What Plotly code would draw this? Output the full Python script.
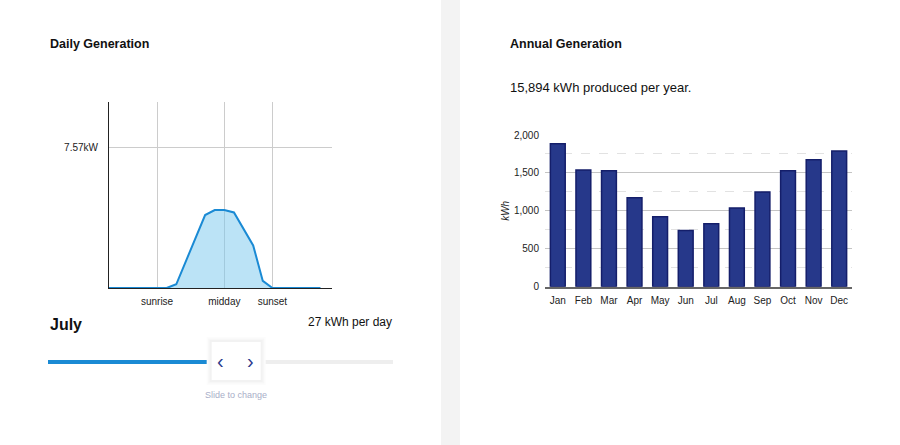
import plotly.graph_objects as go

# ---------------- data ----------------
hours = [0, 6, 7, 8, 9, 10, 11, 12, 13, 14, 15, 16, 17, 22]
power_kw = [0, 0, 0.20, 1.45, 2.75, 3.92, 4.19, 4.19, 4.06, 3.20, 2.29, 0.38, 0, 0]
peak_kw = 7.57
day_tick_vals = [5, 12, 17]
day_tick_text = ["sunrise", "midday", "sunset"]

months = ["Jan", "Feb", "Mar", "Apr", "May", "Jun", "Jul", "Aug", "Sep", "Oct", "Nov", "Dec"]
monthly_kwh = [1885, 1538, 1530, 1172, 922, 742, 830, 1037, 1248, 1530, 1675, 1788]
annual_total = 15894
selected_month = "July"
selected_index = 6
daily_kwh = 27

W, H = 900, 445
def px(x): return x / W
def py(y): return 1 - y / H

FONT = "Liberation Sans, Arial, sans-serif"
BLUE = "#1a8ad4"
NAVY = "#26388a"

fig = go.Figure()

# daily generation area
fig.add_trace(go.Scatter(
    x=hours, y=power_kw, mode="lines", fill="tozeroy",
    line=dict(color=BLUE, width=2),
    fillcolor="rgba(120,200,238,0.5)",
    xaxis="x", yaxis="y", hoverinfo="skip", showlegend=False))

# annual bars
fig.add_trace(go.Bar(
    x=months, y=monthly_kwh,
    marker=dict(color=NAVY, line=dict(color="#141e6a", width=1.5)),
    xaxis="x2", yaxis="y2", showlegend=False))

shapes = []
# separator strip
shapes.append(dict(type="rect", xref="paper", yref="paper", x0=px(441), x1=px(460), y0=0, y1=1,
                   fillcolor="#f3f3f3", line=dict(width=0), layer="below"))

# slider track
x_start, x_end = 48, 393
frac = selected_index / (len(months) - 1)
hc = x_start + frac * (x_end - x_start)
shapes.append(dict(type="line", xref="paper", yref="paper", x0=px(x_start), x1=px(x_end), y0=py(362), y1=py(362),
                   line=dict(color="#eeeeee", width=4)))
shapes.append(dict(type="line", xref="paper", yref="paper", x0=px(x_start), x1=px(hc), y0=py(362), y1=py(362),
                   line=dict(color=BLUE, width=4)))
# handle shadow + box
for i, c in enumerate(["#fcfcfc", "#f7f7f7", "#f2f2f2"]):
    d = 5 - i * 1.5
    shapes.append(dict(type="rect", xref="paper", yref="paper",
                       x0=px(hc - 24.5 - d), x1=px(hc + 24.5 + d), y0=py(380 + d), y1=py(342 - d),
                       fillcolor=c, line=dict(width=0)))
shapes.append(dict(type="rect", xref="paper", yref="paper",
                   x0=px(hc - 24.5), x1=px(hc + 24.5), y0=py(380), y1=py(342),
                   fillcolor="white", line=dict(width=0)))

annotations = [
    dict(text="<b>Daily Generation</b>", x=px(48), y=py(44), xanchor="left", yanchor="middle",
         font=dict(size=12.5, color="#111", family=FONT)),
    dict(text="<b>Annual Generation</b>", x=px(508), y=py(44), xanchor="left", yanchor="middle",
         font=dict(size=12.5, color="#111", family=FONT)),
    dict(text=f"{annual_total:,} kWh produced per year.", x=px(508), y=py(88), xanchor="left", yanchor="middle",
         font=dict(size=13, color="#111", family=FONT)),
    dict(text=f"<b>{selected_month}</b>", x=px(48), y=py(324), xanchor="left", yanchor="middle",
         font=dict(size=16, color="#111", family=FONT)),
    dict(text=f"{daily_kwh} kWh per day", x=px(394), y=py(322), xanchor="right", yanchor="middle",
         font=dict(size=12, color="#111", family=FONT)),
    dict(text="‹", x=px(hc - 15.5), y=py(361), xanchor="center", yanchor="middle",
         font=dict(size=20, color="#2a3a8c", family=FONT)),
    dict(text="›", x=px(hc + 14.5), y=py(361), xanchor="center", yanchor="middle",
         font=dict(size=20, color="#2a3a8c", family=FONT)),
    dict(text="Slide to change", x=px(hc), y=py(395), xanchor="center", yanchor="middle",
         font=dict(size=9, color="#a8aec8", family=FONT)),
]
for a in annotations:
    a.update(xref="paper", yref="paper", showarrow=False)

TICKF = dict(size=10, color="#222")

fig.update_layout(
    width=W, height=H, margin=dict(l=0, r=0, t=0, b=0, autoexpand=False),
    paper_bgcolor="white", plot_bgcolor="rgba(0,0,0,0)",
    font=dict(family=FONT, color="#222"),
    shapes=shapes, annotations=annotations, bargap=0.42,
    xaxis=dict(domain=[px(109), px(332)], range=[0, 23.2], tickvals=day_tick_vals, ticktext=day_tick_text,
               showgrid=True, gridcolor="#cccccc", gridwidth=1, showline=True, linecolor="#222", linewidth=1,
               ticks="outside", ticklen=4, tickcolor="rgba(0,0,0,0)", tickfont=TICKF,
               zeroline=False, fixedrange=True, automargin=False),
    yaxis=dict(domain=[py(288), py(102)], range=[0, 10], tickvals=[peak_kw], ticktext=[f"{peak_kw}kW"],
               showgrid=True, gridcolor="#cccccc", gridwidth=1, showline=True, linecolor="#222", linewidth=1,
               ticks="outside", ticklen=8, tickcolor="rgba(0,0,0,0)", tickfont=TICKF,
               zeroline=False, fixedrange=True, automargin=False),
    xaxis2=dict(domain=[px(545), px(852)], anchor="y2", showgrid=False, showline=True,
                linecolor="#666", linewidth=2, ticks="outside", ticklen=3, tickcolor="rgba(0,0,0,0)",
                tickfont=TICKF, fixedrange=True, automargin=False),
    yaxis2=dict(domain=[py(286.7), py(135)], anchor="x2", range=[0, 2000], dtick=500, tickformat=",",
                showgrid=True, gridcolor="#c4c4c4", gridwidth=1, zeroline=False, showline=False,
                minor=dict(dtick=250, showgrid=True, gridcolor="#e2e2e2", griddash="dash", gridwidth=1),
                ticks="outside", ticklen=3, tickcolor="rgba(0,0,0,0)", tickfont=TICKF,
                title=dict(text="<i>kWh</i>", font=dict(size=10, color="#222"), standoff=2),
                fixedrange=True, automargin=False),
)

post = ("document.documentElement.style.margin='0';document.body.style.margin='0';"
        "document.body.style.overflow='hidden';"
        "var d=document.getElementById('{plot_id}');d.style.position='absolute';"
        "d.style.left='0px';d.style.top='0px';")
fig.write_html("out.html", post_script=post, config={"displayModeBar": False})
